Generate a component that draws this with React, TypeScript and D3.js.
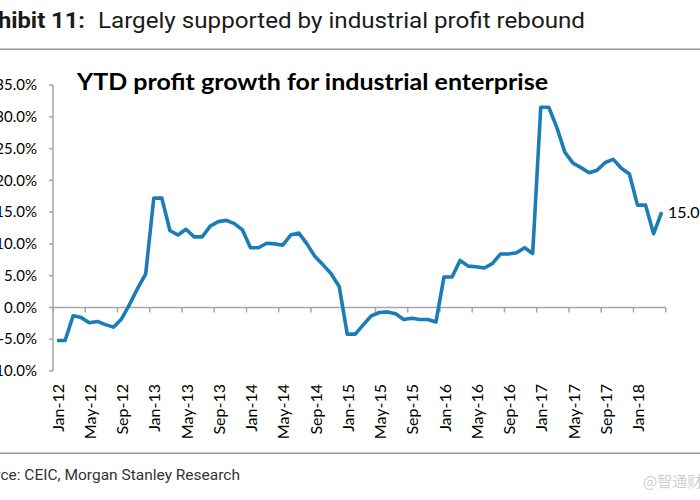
import React from "react";
import * as d3 from "d3";

const monthNames = ["Jan", "Feb", "Mar", "Apr", "May", "Jun", "Jul", "Aug", "Sep", "Oct", "Nov", "Dec"];
const years = ["12", "13", "14", "15", "16", "17", "18"];

const growth2012 = [-5.2, -5.2, -1.3, -1.6, -2.4, -2.2, -2.7, -3.1, -1.8, 0.5, 3.0, 5.3];
const growth2013 = [17.2, 17.2, 12.1, 11.4, 12.3, 11.1, 11.1, 12.8, 13.5, 13.7, 13.2, 12.2];
const growth2014 = [9.4, 9.4, 10.1, 10.0, 9.8, 11.4, 11.7, 10.0, 8.0, 6.7, 5.3, 3.3];
const growth2015 = [-4.2, -4.2, -2.7, -1.3, -0.8, -0.7, -1.0, -1.9, -1.7, -1.9, -1.9, -2.3];
const growth2016 = [4.8, 4.8, 7.4, 6.5, 6.4, 6.2, 6.9, 8.4, 8.4, 8.6, 9.4, 8.5];
const growth2017 = [31.5, 31.5, 28.3, 24.4, 22.7, 22.0, 21.2, 21.6, 22.8, 23.3, 21.9, 21.0];
const growth2018 = [16.1, 16.1, 11.6, 15.0];

const yTicks = [-10, -5, 0, 5, 10, 15, 20, 25, 30, 35];

const values = [...growth2012, ...growth2013, ...growth2014, ...growth2015, ...growth2016, ...growth2017, ...growth2018];
const months = values.map((_, i) => `${monthNames[i % 12]}-${years[Math.floor(i / 12)]}`);

export default function App() {
  const x = d3.scaleBand<string>().domain(months).range([53, 665.7]).padding(0);
  const y = d3.scaleLinear().domain([-10, 35]).range([371, 85]);
  const bw = x.bandwidth();
  const cx = (m: string) => (x(m) as number) + bw / 2;
  const line = d3
    .line<number>()
    .x((_, i) => cx(months[i]))
    .y((d) => y(d));

  const tickIdx = d3.range(0, months.length + 1, 4);
  const labelIdx = d3.range(0, months.length, 4);
  const axisColor = "#a6a6a6";
  const lastVal = values[values.length - 1];
  const labelFont = "Lato, 'Open Sans', sans-serif";

  return (
    <svg width={700} height={500} style={{ position: "absolute", left: 0, top: 0, background: "#fff" }}>
      <rect x={0} y={0} width={700} height={500} fill="#fff" />
      {/* Exhibit title */}
      <g transform="translate(85,27.5) scale(1.08,1)">
        <text x={0} y={0} textAnchor="end" fontFamily="Roboto, 'Liberation Sans'" fontWeight="bold" fontSize={22} fill="#1a1a1a">
          Exhibit 11:
        </text>
      </g>
      <text x={98} y={27.5} fontFamily="Roboto, 'Liberation Sans'" fontSize={21.5} fill="#1a1a1a" textLength={487} lengthAdjust="spacingAndGlyphs">
        Largely supported by industrial profit rebound
      </text>
      <line x1={0} x2={700} y1={49.3} y2={49.3} stroke="#9a9a9a" strokeWidth={1.5} />

      {/* chart title */}
      <text x={77} y={90} fontFamily="Lato, 'Open Sans', sans-serif" fontWeight="bold" fontSize={23} fill="#000" textLength={471} lengthAdjust="spacingAndGlyphs">
        YTD profit growth for industrial enterprise
      </text>

      {/* y axis */}
      <line x1={53} x2={53} y1={y(35)} y2={y(-10)} stroke={axisColor} strokeWidth={1.5} />
      {yTicks.map((t) => (
        <g key={t}>
          <line x1={49} x2={53} y1={y(t)} y2={y(t)} stroke={axisColor} strokeWidth={1.5} />
          <text x={37} y={y(t)} dy="0.35em" textAnchor="end" fontFamily={labelFont} fontSize={15} fill="#000">
            {`${t.toFixed(1)}%`}
          </text>
        </g>
      ))}

      {/* x axis at zero */}
      <line x1={53} x2={665.7} y1={y(0)} y2={y(0)} stroke={axisColor} strokeWidth={1.5} />
      {tickIdx.map((i) => {
        const xx = 53 + i * bw;
        return <line key={i} x1={xx} x2={xx} y1={y(0)} y2={y(0) + 5} stroke={axisColor} strokeWidth={1.5} />;
      })}
      {labelIdx.map((i) => (
        <text
          key={i}
          transform={`translate(${cx(months[i]) + 1},384) rotate(-90)`}
          dy="0.35em"
          textAnchor="end"
          fontFamily={labelFont}
          fontSize={16}
          fill="#000"
        >
          {months[i]}
        </text>
      ))}

      {/* data line */}
      <path d={line(values) || ""} fill="none" stroke="#1a7db6" strokeWidth={3.6} strokeLinejoin="round" />

      <text x={668} y={y(lastVal)} dy="0.35em" fontFamily={labelFont} fontSize={16} fill="#000">
        {`${lastVal.toFixed(1)}%`}
      </text>

      {/* footer */}
      <line x1={0} x2={700} y1={453.3} y2={453.3} stroke="#9a9a9a" strokeWidth={1.5} />
      <text x={240} y={480} textAnchor="end" fontFamily="Roboto, 'Liberation Sans'" fontSize={15.5} fill="#333">
        Source: CEIC, Morgan Stanley Research
      </text>
      <text x={643} y={487} fontFamily="'Noto Sans CJK SC', sans-serif" fontSize={15} fill="#cfcfcf">
        @智通财经
      </text>
    </svg>
  );
}
